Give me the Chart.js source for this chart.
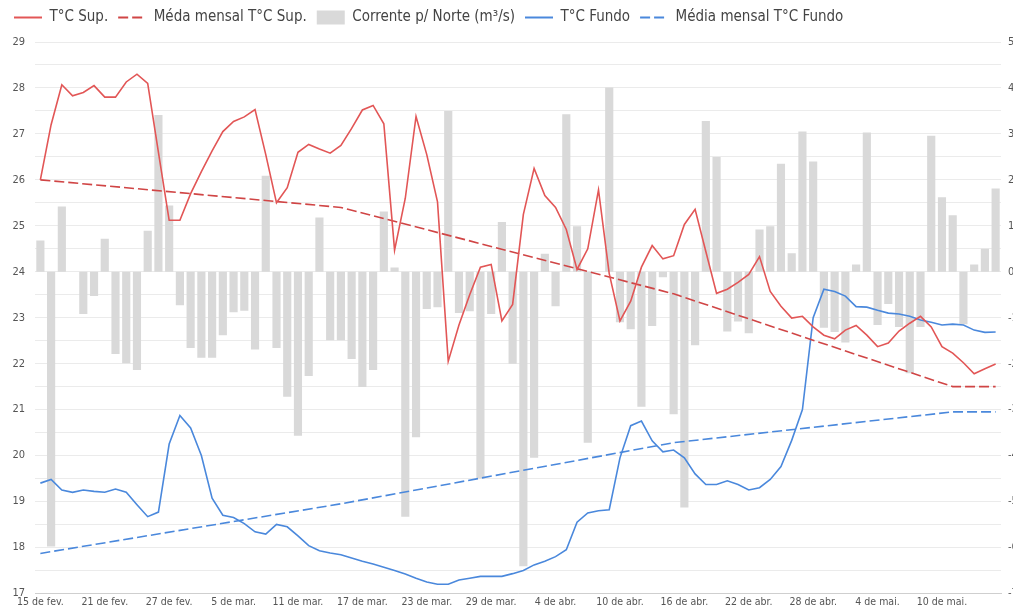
<!DOCTYPE html>
<html lang="pt">
<head>
<meta charset="utf-8">
<script src="https://cdn.jsdelivr.net/npm/chart.js@4"></script>
<style>
  html, body { margin: 0; padding: 0; background: #fff; overflow: hidden; }
</style>
</head>
<body>
<canvas id="grafico" width="1013" height="610"></canvas>
<script>
// Dias: 15 de fev. ate 15 de mai. (90 dias)
const meses = ['jan.', 'fev.', 'mar.', 'abr.', 'mai.'];
const dias = [];
for (let i = 0; i < 90; i++) {
    const d = new Date(2023, 1, 15 + i);
    dias.push(d.getDate() + ' de ' + meses[d.getMonth()]);
}

// Temperatura superficie (°C)
const tempSup = [
    26.0, 27.2, 28.07, 27.83, 27.9, 28.05, 27.8, 27.8, 28.13, 28.3,
    28.1, 26.6, 25.12, 25.12, 25.7, 26.18, 26.63, 27.05, 27.27, 27.37,
    27.53, 26.55, 25.5, 25.83, 26.6, 26.77, 26.67, 26.58, 26.75, 27.12,
    27.52, 27.62, 27.22, 24.47, 25.6, 27.38, 26.55, 25.52, 22.05, 22.84,
    23.5, 24.1, 24.16, 22.93, 23.29, 25.25, 26.25, 25.66, 25.4, 24.92,
    24.05, 24.5, 25.78, 23.96, 22.93, 23.36, 24.1, 24.57, 24.28, 24.35,
    25.03, 25.36, 24.44, 23.53, 23.62, 23.77, 23.94, 24.33, 23.57, 23.25,
    22.99, 23.03, 22.8, 22.62, 22.54, 22.73, 22.83, 22.62, 22.37, 22.45,
    22.71, 22.88, 23.03, 22.8, 22.37, 22.23, 22.02, 21.78, 21.89, 21.99
];

// Temperatura fundo (°C)
const tempFundo = [
    19.4, 19.48, 19.25, 19.2, 19.25, 19.22, 19.2, 19.27, 19.2, 18.93,
    18.67, 18.77, 20.25, 20.87, 20.6, 20.0, 19.07, 18.7, 18.65, 18.52,
    18.34, 18.29, 18.5, 18.45, 18.25, 18.04, 17.93, 17.88, 17.84, 17.77,
    17.7, 17.64, 17.57, 17.5, 17.42, 17.33, 17.25, 17.2, 17.2, 17.29,
    17.33, 17.37, 17.37, 17.37, 17.43, 17.5, 17.62, 17.7, 17.8, 17.95,
    18.55, 18.75, 18.8, 18.82, 19.95, 20.65, 20.75, 20.32, 20.08, 20.12,
    19.95, 19.6, 19.37, 19.37, 19.45, 19.37, 19.25, 19.3, 19.48, 19.76,
    20.33, 21.0, 23.0, 23.62, 23.57, 23.47, 23.24, 23.23, 23.16, 23.1,
    23.08, 23.03, 22.95, 22.9, 22.84, 22.86, 22.84, 22.73, 22.68, 22.69
];

// Corrente p/ Norte (m³/s)
const corrente = [
    0.68, -5.98, 1.42, 0, -0.92, -0.53, 0.72, -1.79, -1.99, -2.14,
    0.89, 3.41, 1.44, -0.73, -1.66, -1.87, -1.87, -1.38, -0.88, -0.85,
    -1.69, 2.09, -1.66, -2.72, -3.57, -2.27, 1.18, -1.49, -1.49, -1.9,
    -2.51, -2.14, 1.31, 0.09, -5.33, -3.6, -0.81, -0.77, 3.5, -0.9,
    -0.86, -4.5, -0.92, 1.08, -2.0, -6.41, -4.05, 0.39, -0.75, 3.43,
    0.99, -3.72, 0, 4.01, -1.1, -1.25, -2.94, -1.18, -0.12, -3.1,
    -5.13, -1.6, 3.28, 2.5, -1.3, -1.08, -1.34, 0.92, 0.99, 2.35,
    0.4, 3.05, 2.4, -1.22, -1.31, -1.54, 0.16, 3.03, -1.16, -0.7,
    -1.2, -2.21, -1.2, 2.96, 1.62, 1.23, -1.14, 0.16, 0.5, 1.81
];

// Medias mensais (so nos dias marcados, o resto fica ligado por spanGaps)
const diasMedia = [0, 28, 59, 85, 89];
const mediaSup = [26.0, 25.4, 23.52, 21.5, 21.5];
const mediaFundo = [17.87, 18.95, 20.28, 20.95, 20.95];

function serieEsparsa(idx, vals) {
    const arr = new Array(dias.length).fill(null);
    idx.forEach((d, k) => { arr[d] = vals[k]; });
    return arr;
}

const vermelho = '#e25656';
const vermelhoEsc = '#d04545';
const azul = '#4a88dc';
const cinza = '#d9d9d9';

Chart.defaults.font.family = "'Liberation Sans Narrow', 'DejaVu Sans Condensed', Roboto, sans-serif";
Chart.defaults.color = '#555';

// espaco extra entre a legenda e a area do grafico
const espacoLegenda = {
    id: 'espacoLegenda',
    beforeInit(chart) {
        const fitOrig = chart.legend.fit;
        chart.legend.fit = function () {
            fitOrig.bind(chart.legend)();
            this.height += 7;
        };
    }
};

const ctx = document.getElementById('grafico').getContext('2d');

new Chart(ctx, {
    data: {
        labels: dias,
        datasets: [
            {
                type: 'line', label: 'T°C Sup.', data: tempSup, yAxisID: 'y',
                borderColor: vermelho, borderWidth: 1.6, pointRadius: 0, tension: 0, order: 0
            },
            {
                type: 'line', label: 'Méda mensal T°C Sup.', data: serieEsparsa(diasMedia, mediaSup), yAxisID: 'y',
                borderColor: vermelhoEsc, borderWidth: 1.6, borderDash: [10, 4], pointRadius: 0, spanGaps: true, order: 0
            },
            {
                type: 'bar', label: 'Corrente p/ Norte (m³/s)', data: corrente, yAxisID: 'y1',
                backgroundColor: cinza, barPercentage: 0.76, categoryPercentage: 1, order: 1
            },
            {
                type: 'line', label: 'T°C Fundo', data: tempFundo, yAxisID: 'y',
                borderColor: azul, borderWidth: 1.6, pointRadius: 0, tension: 0, order: 0
            },
            {
                type: 'line', label: 'Média mensal T°C Fundo', data: serieEsparsa(diasMedia, mediaFundo), yAxisID: 'y',
                borderColor: azul, borderWidth: 1.6, borderDash: [10, 4], pointRadius: 0, spanGaps: true, order: 0
            }
        ]
    },
    options: {
        responsive: false,
        animation: false,
        devicePixelRatio: 1,
        layout: { padding: { left: 4, right: 0, top: 0, bottom: 0 } },
        plugins: {
            tooltip: { enabled: false },
            legend: {
                position: 'top',
                align: 'start',
                labels: {
                    font: { size: 15 },
                    color: '#444',
                    boxWidth: 30,
                    boxHeight: 14,
                    padding: 10,
                    usePointStyle: true,
                    pointStyleWidth: 28,
                    generateLabels: (chart) => chart.data.datasets.map((ds, i) => ({
                        text: ds.label,
                        datasetIndex: i,
                        fillStyle: ds.type === 'bar' ? ds.backgroundColor : 'rgba(0,0,0,0)',
                        strokeStyle: ds.type === 'bar' ? ds.backgroundColor : ds.borderColor,
                        lineWidth: ds.type === 'bar' ? 0 : 2,
                        lineDash: ds.borderDash || [],
                        pointStyle: ds.type === 'bar' ? 'rect' : 'line',
                        fontColor: '#444'
                    }))
                }
            }
        },
        scales: {
            x: {
                offset: true,
                grid: { display: false, drawTicks: false },
                border: { color: '#cfcfcf' },
                ticks: {
                    autoSkip: false, maxRotation: 0, padding: 3,
                    font: { size: 10.5 }, color: '#555',
                    callback: (v, i) => (i % 6 === 0 ? dias[i] : null)
                },
                afterFit: (s) => { s.height = 15; }
            },
            y: {
                position: 'left', min: 17, max: 29,
                grid: { color: '#ebebeb', drawTicks: false },
                border: { display: false },
                ticks: {
                    stepSize: 0.5, padding: 10, font: { size: 11 }, color: '#555',
                    callback: (v) => (Number.isInteger(v) ? v : '')
                },
                afterFit: (s) => { s.width = 31; }
            },
            y1: {
                position: 'right', min: -7, max: 5,
                grid: { display: false, drawTicks: false },
                border: { display: false },
                ticks: {
                    stepSize: 1, padding: 7, font: { size: 11 }, color: '#555'
                },
                afterFit: (s) => { s.width = 12; }
            }
        }
    },
    plugins: [espacoLegenda]
});
</script>
</body>
</html>
